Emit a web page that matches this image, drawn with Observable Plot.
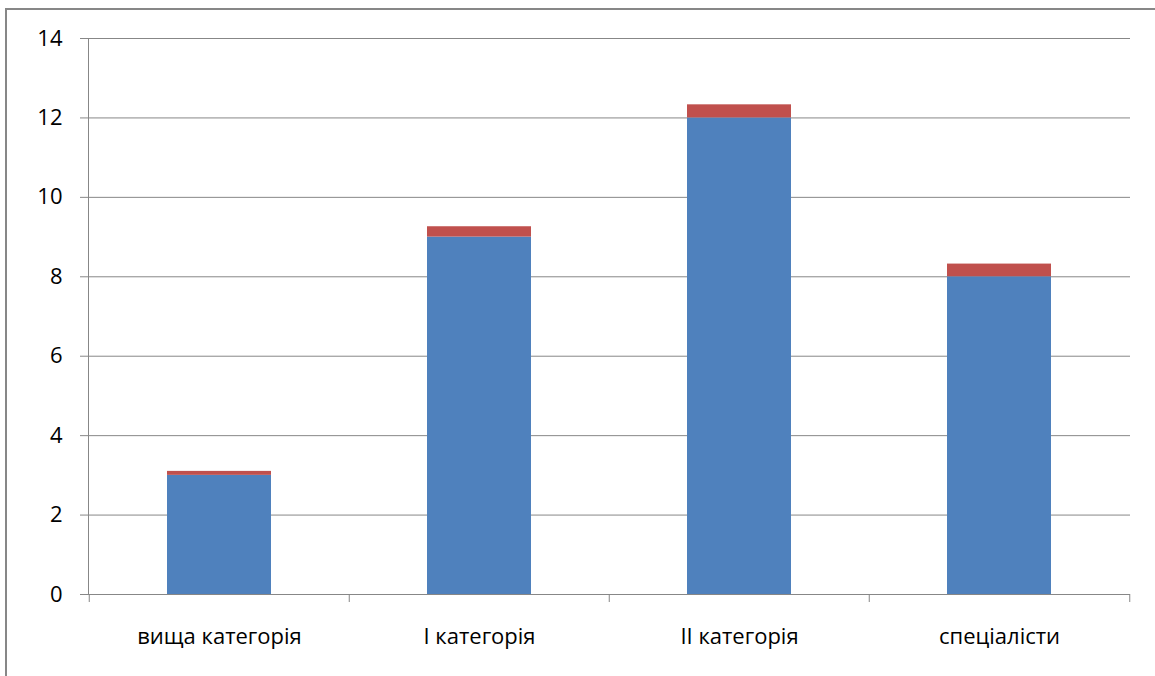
<!DOCTYPE html>
<html>
<head>
<meta charset="utf-8">
<script src="https://cdn.jsdelivr.net/npm/d3@7"></script>
<script src="https://cdn.jsdelivr.net/npm/@observablehq/plot@0.6"></script>
<style>
  html, body { margin: 0; padding: 0; background: #fff; }
  #wrap { position: relative; width: 1155px; height: 676px; overflow: hidden; }
  #border { position: absolute; left: 5px; top: 8px; width: 1200px; height: 720px;
            border-left: 2px solid #878787; border-top: 2px solid #878787; box-sizing: border-box; }
  #chart { position: absolute; left: 0; top: 0; }
</style>
</head>
<body>
<div id="wrap"><div id="border"></div><div id="chart"></div></div>
<script>
const categories = ["вища категорія", "І категорія", "ІІ категорія", "спеціалісти"];
const series1 = [3, 9, 12, 8];
const series2 = [0.1, 0.26, 0.33, 0.32];
const seriesNames = ["Ряд1", "Ряд2"];
const seriesColors = ["#4F81BD", "#C0504D"];
const yTicks = [0, 2, 4, 6, 8, 10, 12, 14];

const W = 1155, H = 676;
const mL = 88, mR = 25, mT = 38, mB = 82;
const step = (W - mL - mR) / categories.length;
const pxPerUnit = (H - mT - mB) / 14;
const tickLen = 8 / pxPerUnit;
const grey = "#878787";

const data = [];
categories.forEach((c, i) => {
  data.push({cat: c, series: seriesNames[0], value: series1[i]});
  data.push({cat: c, series: seriesNames[1], value: series2[i]});
});

const plot = Plot.plot({
  width: W, height: H,
  marginLeft: mL, marginRight: mR, marginTop: mT, marginBottom: mB,
  style: {fontFamily: "'Open Sans', sans-serif", fontSize: "22px", color: "#000", background: "transparent", overflow: "visible"},
  x: {domain: categories, paddingInner: 0.6, paddingOuter: 0.3, label: null},
  y: {domain: [0, 14], label: null},
  color: {domain: seriesNames, range: seriesColors},
  marks: [
    Plot.gridY(yTicks, {stroke: grey, strokeOpacity: 1, strokeWidth: 1}),
    Plot.barY(data, {x: "cat", y: "value", fill: "series", order: seriesNames}),
    Plot.ruleY([0], {stroke: grey, strokeWidth: 1}),
    Plot.frame({anchor: "left", stroke: grey, strokeWidth: 1}),
    Plot.ruleX(categories, {x: d => d, dx: -step / 2, y1: 0, y2: -tickLen, stroke: grey}),
    Plot.ruleX(categories.slice(-1), {x: d => d, dx: step / 2, y1: 0, y2: -tickLen, stroke: grey}),
    Plot.axisY(yTicks, {tickSize: 8, tickPadding: 18, stroke: grey, fill: "#000", label: null, fontSize: 22}),
    Plot.axisX({tickSize: 0, tickPadding: 34, fill: "#000", label: null, fontSize: 22})
  ]
});
document.getElementById("chart").appendChild(plot);
</script>
</body>
</html>
